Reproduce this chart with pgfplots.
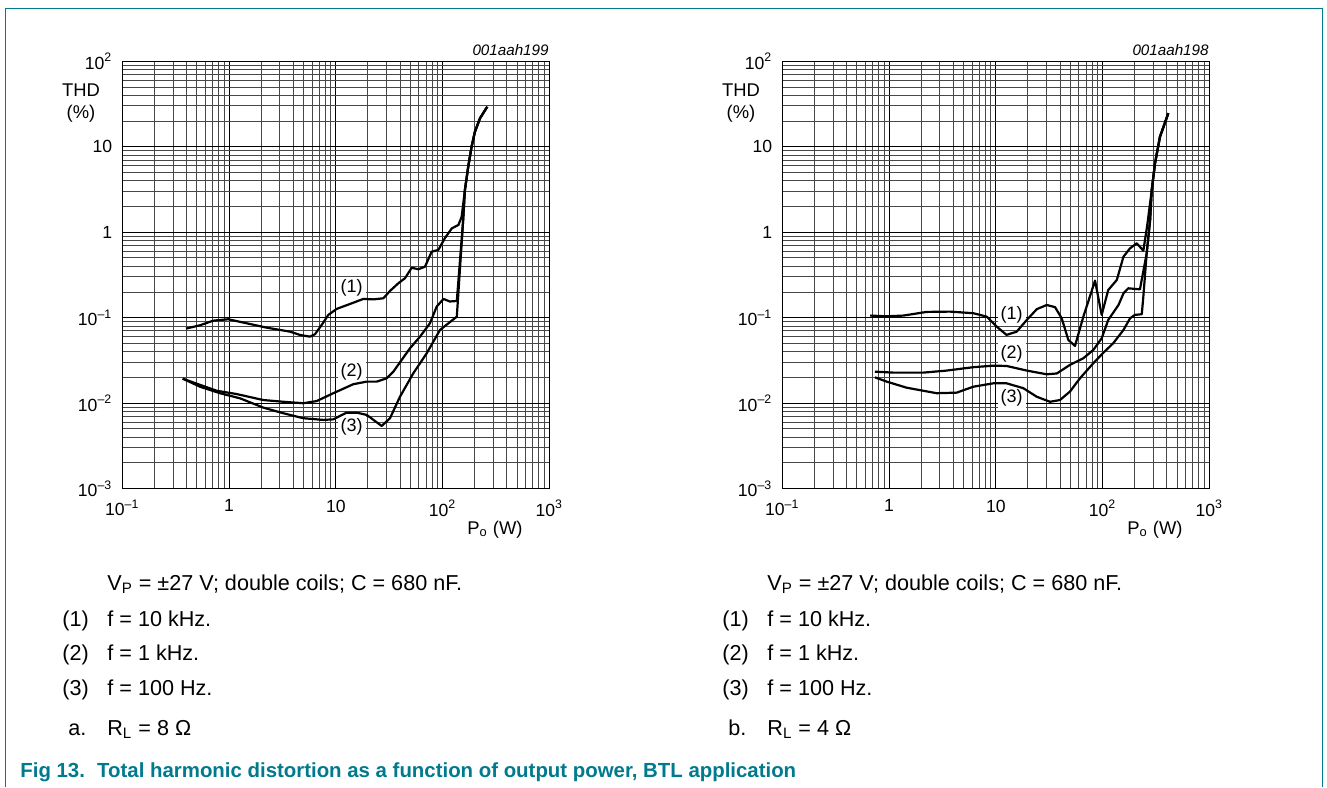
\documentclass[border=0pt]{standalone}
\usepackage{fontspec}
\setmainfont{Liberation Sans}
\usepackage{pgfplots}
\pgfplotsset{compat=1.18}
\definecolor{nxpteal}{RGB}{0,122,140}
\newcommand{\ticksize}{\fontsize{8.8}{10}\selectfont}
\newcommand{\bodysize}{\fontsize{10.8}{12}\selectfont}
\pgfplotsset{
  thdaxis/.style={
    width=213.5pt, height=213.7pt, scale only axis, anchor=south west,
    xmin=0.1, xmax=1000, ymin=0.001, ymax=100,
    xtick={0.1,1,10,100,1000},
    xticklabels={10\textsuperscript{\textendash1},1,10,10\textsuperscript{2},10\textsuperscript{3}},
    ytick={0.001,0.01,0.1,1,10,100},
    yticklabels={10\textsuperscript{\textendash3},10\textsuperscript{\textendash2},10\textsuperscript{\textendash1},1,10,10\textsuperscript{2}},
    ticklabel style={font=\ticksize},
    xticklabel style={yshift=-2pt},
    yticklabel style={xshift=-1.5pt},
    major tick length=0pt, minor tick length=0pt,
    grid=both,
    major grid style={black, line width=0.55pt},
    minor grid style={black!72, line width=0.5pt},
    axis line style={black, line width=0.6pt},
    clip=true,
  },
}
\tikzset{
  thdcurve/.style={black, line width=1.1pt, line join=round},
  thdlbl/.style={fill=white, inner sep=1.5pt, font=\fontsize{9}{10}\selectfont},
}
\begin{document}
\begin{tikzpicture}[x=1pt,y=1pt]
\path[use as bounding box] (0,0) rectangle (663.5,-393.5);
% frame
\draw[nxpteal, line width=0.8pt] (2.7,-393.5) -- (2.7,-4.2) -- (661.2,-4.2) -- (661.2,-393.5);

% ---------- left panel ----------
\begin{loglogaxis}[thdaxis, at={(61.15pt,-244.35pt)}]
\node[thdlbl] at (axis cs:14.1,0.221) {(1)};
\node[thdlbl] at (axis cs:14.1,0.0234) {(2)};
\node[thdlbl] at (axis cs:14.1,0.00532) {(3)};
\addplot[thdcurve, mark=none] coordinates {(0.395,0.0746) (0.535,0.0817) (0.713,0.0925) (0.984,0.096) (1.46,0.0862) (2.25,0.0766) (3.72,0.0688) (4.62,0.0629) (5.73,0.0601) (6.38,0.0641) (7.38,0.0824) (8.51,0.108) (10.2,0.127) (13.6,0.145) (18.1,0.166) (22.5,0.164) (27.9,0.169) (32.2,0.206) (38.5,0.253) (44.5,0.290) (51.4,0.385) (59.3,0.369) (68.5,0.396) (79.1,0.593) (91.2,0.621) (105,0.851) (122,1.11) (141,1.22) (151,1.52) (162,3.13) (174,5.85) (187,10.0) (201,15.0) (224,21.5) (262,29.4)};
\addplot[thdcurve, mark=none] coordinates {(0.368,0.0194) (0.535,0.0164) (0.766,0.0140) (1.18,0.0128) (2.09,0.0109) (3.22,0.0104) (4.96,0.0100) (6.62,0.0106) (9.48,0.0131) (14.6,0.0167) (19.5,0.0179) (24.2,0.0179) (30.0,0.0196) (34.6,0.0234) (41.4,0.0321) (49.5,0.0439) (61.5,0.0601) (76.3,0.0863) (88.1,0.135) (102,0.166) (117,0.155) (136,0.157) (156,1.39) (162,3.13) (174,5.85) (187,10.0) (201,15.0) (224,21.5) (262,29.4)};
\addplot[thdcurve, mark=none] coordinates {(0.368,0.0194) (0.535,0.0156) (0.822,0.0131) (1.27,0.0114) (2.09,0.00889) (3.22,0.00764) (4.96,0.00668) (7.64,0.00638) (9.48,0.00648) (12.6,0.00776) (15.7,0.00776) (19.5,0.00730) (26.9,0.00542) (32.2,0.00668) (39.9,0.0119) (53.2,0.0224) (71.1,0.0385) (94.6,0.0720) (136,0.103) (156,1.39) (162,3.13) (174,5.85) (187,10.0) (201,15.0) (224,21.5) (262,29.4)};
\end{loglogaxis}

% ---------- right panel ----------
\begin{loglogaxis}[thdaxis, at={(391.15pt,-244.35pt)}]
\node[thdlbl] at (axis cs:14.1,0.108) {(1)};
\node[thdlbl] at (axis cs:14.1,0.0374) {(2)};
\node[thdlbl] at (axis cs:14.1,0.0116) {(3)};
\addplot[thdcurve, mark=none] coordinates {(0.664,0.106) (0.951,0.104) (1.36,0.106) (2.25,0.117) (3.72,0.118) (6.15,0.113) (8.22,0.103) (10.2,0.0787) (12.6,0.0630) (15.7,0.0688) (19.5,0.0942) (24.2,0.126) (30.0,0.141) (35.9,0.133) (41.4,0.0987) (47.8,0.0550) (55.2,0.0468) (66.1,0.103) (85.0,0.272) (98.1,0.108) (113,0.211) (136,0.277) (157,0.519) (181,0.650) (209,0.743) (241,0.609) (262,1.2) (289,3.13) (310,6.41) (345,13.1) (413,24.7)};
\addplot[thdcurve, mark=none] coordinates {(0.738,0.0234) (1.10,0.0228) (2.09,0.0228) (3.47,0.0241) (6.15,0.0264) (9.48,0.0275) (12.6,0.0273) (19.5,0.0241) (30.0,0.0218) (37.3,0.0223) (49.5,0.0281) (66.1,0.0336) (81.9,0.0420) (98.1,0.0575) (113,0.0942) (141,0.141) (157,0.193) (174,0.221) (224,0.215) (259,0.568) (279,1.39) (289,3.13) (310,6.41) (345,13.1) (413,24.7)};
\addplot[thdcurve, mark=none] coordinates {(0.738,0.0201) (0.951,0.0179) (1.46,0.0152) (2.79,0.0131) (4.30,0.0133) (6.15,0.0156) (9.48,0.0171) (12.6,0.0171) (18.1,0.0150) (24.2,0.0119) (32.2,0.0104) (39.9,0.0109) (49.5,0.0137) (61.5,0.0196) (81.9,0.0294) (102,0.0391) (126,0.0504) (157,0.0720) (181,0.0986) (201,0.108) (233,0.110) (241,0.177) (259,0.568) (279,1.39) (289,3.13) (310,6.41) (345,13.1) (413,24.7)};
\end{loglogaxis}

% axis texts
\foreach \dx/\code in {0/001aah199, 330/001aah198}{
  \node[anchor=base east, inner sep=0pt, font=\fontsize{7.6}{9}\selectfont\itshape] at (274.5+\dx,-27.5) {\code};
  \node[align=center, inner sep=0pt, font=\fontsize{9.2}{11.25}\selectfont] at (40.5+\dx,-51.5) {THD\\(\%)};
  \node[anchor=base, inner sep=0pt, font=\fontsize{9.2}{10}\selectfont] at (247.5+\dx,-267) {P\textsubscript{o} (W)};
}

% captions below panels
\begin{scope}[every node/.style={anchor=base west, inner sep=0pt, font=\bodysize}]
\node at (53.5,-295.3) {V\textsubscript{P} = \textpm27 V; double coils; C = 680 nF.};
\node at (31,-313) {(1)}; \node at (53.5,-313) {f = 10 kHz.};
\node at (31,-330) {(2)}; \node at (53.5,-330) {f = 1 kHz.};
\node at (31,-347.5) {(3)}; \node at (53.5,-347.5) {f = 100 Hz.};
\node at (34,-367.5) {a.}; \node at (53.5,-367.5) {R\textsubscript{L} = 8 Ω};

\node at (383.5,-295.3) {V\textsubscript{P} = \textpm27 V; double coils; C = 680 nF.};
\node at (361,-313) {(1)}; \node at (383.5,-313) {f = 10 kHz.};
\node at (361,-330) {(2)}; \node at (383.5,-330) {f = 1 kHz.};
\node at (361,-347.5) {(3)}; \node at (383.5,-347.5) {f = 100 Hz.};
\node at (364,-367.5) {b.}; \node at (383.5,-367.5) {R\textsubscript{L} = 4 Ω};

\node[text=nxpteal, font=\fontsize{10.2}{12}\selectfont\bfseries] at (10,-388.5) {Fig 13.\hspace{0.6em}Total harmonic distortion as a function of output power, BTL application};
\end{scope}
\end{tikzpicture}
\end{document}
